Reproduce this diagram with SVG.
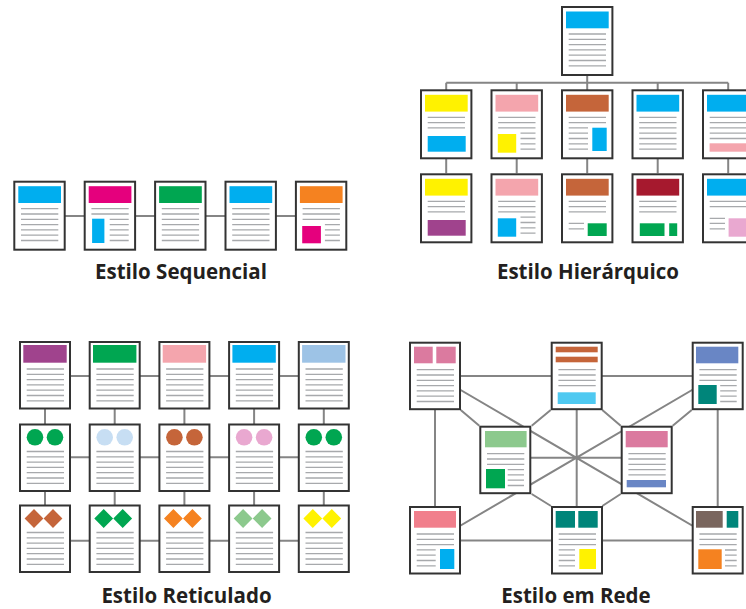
<svg xmlns="http://www.w3.org/2000/svg" xmlns:xlink="http://www.w3.org/1999/xlink" width="746" height="609" viewBox="0 0 746 609">
<style>
.pg{fill:#fff;stroke:#333;stroke-width:2}
.ln{stroke:#a7a9ac;stroke-width:1.3;fill:none}
.cn{stroke:#858585;stroke-width:2;fill:none}
.lbl{font-family:"Open Sans","Liberation Sans",sans-serif;font-weight:700;font-size:20.5px;fill:#231f20;text-anchor:middle}
</style>
<defs>
<path id="L7" class="ln" d="M7.7 28H45M7.7 33.3H45M7.7 38.6H45M7.7 43.9H45M7.7 49.2H45M7.7 54.5H45M7.7 59.8H45"/>
<path id="L5" class="ln" d="M7.7 28H45M7.7 33.3H45M7.7 38.6H45M7.7 43.9H45M7.7 49.2H45"/>
<path id="L4" class="ln" d="M7.7 28H45M7.7 33.3H45M7.7 38.6H45M7.7 43.9H45"/>
<path id="L3" class="ln" d="M7.7 28H45M7.7 33.3H45M7.7 38.6H45"/>
<path id="L2" class="ln" d="M7.7 28H45M7.7 33.3H45"/>
<path id="SR4" class="ln" d="M30 43.9H45M30 49.2H45M30 54.5H45M30 59.8H45"/>
<path id="SR5" class="ln" d="M26 38.6H45M26 43.9H45M26 49.2H45M26 54.5H45M26 59.8H45"/>
<path id="SL5" class="ln" d="M7.7 38.6H27M7.7 43.9H27M7.7 49.2H27M7.7 54.5H27M7.7 59.8H27"/>
<rect id="F70" class="pg" x="1" y="1" width="50.4" height="68"/>
<rect id="F68" class="pg" x="1" y="1" width="50" height="66.5"/>
</defs>

<!-- connectors -->
<g id="connectors">
<path class="cn" d="M39.5 216H321"/>
<path class="cn" d="M587.2 76V82.7M446.2 82.7H728.2M446.2 82.7V173.3M516.7 82.7V173.3M587.2 82.7V173.3M657.7 82.7V173.3M728.2 82.7V173.3"/>
<path class="cn" d="M45 376H323.8M45 457.3H323.8M45 540.7H323.8M45 376V540M114.7 376V540M184.4 376V540M254.1 376V540M323.8 376V540"/>
<path class="cn" d="M435 376H717.7M435 540.5H717.7M435 376V540.5M576.7 376V540.5M717.7 376V540.5M505.3 457.7H646.7M435 375L717.7 540.5M717.7 375L435 540.5M460.7 410L479.3 425.7M691.7 410L672.7 425.7M550.7 410L531.7 425.7M602.3 410L620.7 425.7M531.7 494L551 506M620.7 494L602.3 506"/>
</g>

<!-- Sequencial -->
<g id="seq1" transform="translate(13.3,180.7)"><use href="#F70"/><rect x="5" y="5.5" width="42.7" height="16.8" fill="#00aeef"/><use href="#L7"/></g>
<g id="seq2" transform="translate(83.7,180.7)"><use href="#F70"/><rect x="5" y="5.5" width="42.7" height="16.8" fill="#e5007d"/><use href="#L2"/><rect x="8.4" y="38" width="12.3" height="24.3" fill="#00aeef"/><use href="#SR5"/></g>
<g id="seq3" transform="translate(154.1,180.7)"><use href="#F70"/><rect x="5" y="5.5" width="42.7" height="16.8" fill="#00a651"/><use href="#L7"/></g>
<g id="seq4" transform="translate(224.5,180.7)"><use href="#F70"/><rect x="5" y="5.5" width="42.7" height="16.8" fill="#00aeef"/><use href="#L7"/></g>
<g id="seq5" transform="translate(294.9,180.7)"><use href="#F70"/><rect x="5" y="5.5" width="42.7" height="16.8" fill="#f58220"/><use href="#L3"/><rect x="7.3" y="45.3" width="18.7" height="17.3" fill="#e5007d"/><use href="#SR4"/></g>
<text class="lbl" x="181" y="279">Estilo Sequencial</text>

<!-- Hierárquico -->
<g id="h0" transform="translate(561,6)"><use href="#F70"/><rect x="5" y="5.5" width="42.7" height="16.8" fill="#00aeef"/><use href="#L7"/></g>
<g id="h11" transform="translate(420,89.3)"><use href="#F70"/><rect x="5" y="5.5" width="42.7" height="16.8" fill="#fff200"/><use href="#L3"/><rect x="7.7" y="46.7" width="38" height="15.7" fill="#00aeef"/></g>
<g id="h12" transform="translate(490.5,89.3)"><use href="#F70"/><rect x="5" y="5.5" width="42.7" height="16.8" fill="#f4a5ad"/><use href="#L3"/><rect x="7.3" y="44.7" width="18.4" height="18.7" fill="#fff200"/><use href="#SR4"/></g>
<g id="h13" transform="translate(561,89.3)"><use href="#F70"/><rect x="5" y="5.5" width="42.7" height="16.8" fill="#c5653a"/><use href="#L2"/><rect x="31.3" y="38.4" width="14.4" height="23.3" fill="#00aeef"/><use href="#SL5"/></g>
<g id="h14" transform="translate(631.5,89.3)"><use href="#F70"/><rect x="5" y="5.5" width="42.7" height="16.8" fill="#00aeef"/><use href="#L7"/></g>
<g id="h15" transform="translate(702,89.3)"><use href="#F70"/><rect x="5" y="5.5" width="42.7" height="16.8" fill="#00aeef"/><use href="#L5"/><rect x="7.6" y="54" width="38" height="8.4" fill="#f4a5ad"/></g>
<g id="h21" transform="translate(420,173.3)"><use href="#F70"/><rect x="5" y="5.5" width="42.7" height="16.8" fill="#fff200"/><use href="#L3"/><rect x="7.7" y="46.7" width="38" height="15.7" fill="#a0438d"/></g>
<g id="h22" transform="translate(490.5,173.3)"><use href="#F70"/><rect x="5" y="5.5" width="42.7" height="16.8" fill="#f4a5ad"/><use href="#L3"/><rect x="7.3" y="45" width="18.4" height="18.4" fill="#00aeef"/><use href="#SR4"/></g>
<g id="h23" transform="translate(561,173.3)"><use href="#F70"/><rect x="5" y="5.5" width="42.7" height="16.8" fill="#c5653a"/><use href="#L3"/><path class="ln" d="M7.7 50H23M7.7 55.5H23"/><rect x="26.7" y="50" width="19" height="12.7" fill="#00a651"/></g>
<g id="h24" transform="translate(631.5,173.3)"><use href="#F70"/><rect x="5" y="5.5" width="42.7" height="16.8" fill="#a6192e"/><use href="#L3"/><rect x="8.3" y="50" width="24.7" height="12.7" fill="#00a651"/><rect x="37.7" y="50" width="8" height="12.7" fill="#00a651"/></g>
<g id="h25" transform="translate(702,173.3)"><use href="#F70"/><rect x="5" y="5.5" width="42.7" height="16.8" fill="#00aeef"/><use href="#L2"/><path class="ln" d="M7.7 45H23M7.7 50H23M7.7 55.5H23"/><rect x="26.6" y="45" width="18.4" height="18.4" fill="#e9a8d0"/></g>
<text class="lbl" x="588" y="279">Estilo Hierárquico</text>

<!-- Reticulado -->
<g id="r11" transform="translate(19,341)"><use href="#F68"/><rect x="4.3" y="4" width="43.4" height="17.7" fill="#a0438d"/><use href="#L7"/></g>
<g id="r12" transform="translate(88.7,341)"><use href="#F68"/><rect x="4.3" y="4" width="43.4" height="17.7" fill="#00a651"/><use href="#L7"/></g>
<g id="r13" transform="translate(158.4,341)"><use href="#F68"/><rect x="4.3" y="4" width="43.4" height="17.7" fill="#f4a5ad"/><use href="#L7"/></g>
<g id="r14" transform="translate(228.1,341)"><use href="#F68"/><rect x="4.3" y="4" width="43.4" height="17.7" fill="#00aeef"/><use href="#L7"/></g>
<g id="r15" transform="translate(297.8,341)"><use href="#F68"/><rect x="4.3" y="4" width="43.4" height="17.7" fill="#9dc3e6"/><use href="#L7"/></g>
<g id="r21" transform="translate(19,423.5)"><use href="#F68"/><circle cx="16" cy="13.8" r="8.3" fill="#00a651"/><circle cx="36" cy="13.8" r="8.3" fill="#00a651"/><use href="#L7"/></g>
<g id="r22" transform="translate(88.7,423.5)"><use href="#F68"/><circle cx="16" cy="13.8" r="8.3" fill="#c7def3"/><circle cx="36" cy="13.8" r="8.3" fill="#c7def3"/><use href="#L7"/></g>
<g id="r23" transform="translate(158.4,423.5)"><use href="#F68"/><circle cx="16" cy="13.8" r="8.3" fill="#c5653a"/><circle cx="36" cy="13.8" r="8.3" fill="#c5653a"/><use href="#L7"/></g>
<g id="r24" transform="translate(228.1,423.5)"><use href="#F68"/><circle cx="16" cy="13.8" r="8.3" fill="#e9a8d0"/><circle cx="36" cy="13.8" r="8.3" fill="#e9a8d0"/><use href="#L7"/></g>
<g id="r25" transform="translate(297.8,423.5)"><use href="#F68"/><circle cx="16" cy="13.8" r="8.3" fill="#00a651"/><circle cx="36" cy="13.8" r="8.3" fill="#00a651"/><use href="#L7"/></g>
<g id="r31" transform="translate(19,504.5)"><use href="#F68"/><path d="M15 4.6L24.4 14L15 23.4L5.6 14ZM34 4.6L43.4 14L34 23.4L24.6 14Z" fill="#c5653a"/><use href="#L7"/></g>
<g id="r32" transform="translate(88.7,504.5)"><use href="#F68"/><path d="M15 4.6L24.4 14L15 23.4L5.6 14ZM34 4.6L43.4 14L34 23.4L24.6 14Z" fill="#00a651"/><use href="#L7"/></g>
<g id="r33" transform="translate(158.4,504.5)"><use href="#F68"/><path d="M15 4.6L24.4 14L15 23.4L5.6 14ZM34 4.6L43.4 14L34 23.4L24.6 14Z" fill="#f58220"/><use href="#L7"/></g>
<g id="r34" transform="translate(228.1,504.5)"><use href="#F68"/><path d="M15 4.6L24.4 14L15 23.4L5.6 14ZM34 4.6L43.4 14L34 23.4L24.6 14Z" fill="#8cc98d"/><use href="#L7"/></g>
<g id="r35" transform="translate(297.8,504.5)"><use href="#F68"/><path d="M15 4.6L24.4 14L15 23.4L5.6 14ZM34 4.6L43.4 14L34 23.4L24.6 14Z" fill="#fff200"/><use href="#L7"/></g>
<text class="lbl" x="186.5" y="603">Estilo Reticulado</text>

<!-- Rede -->
<g id="nTL" transform="translate(409,341.7)"><use href="#F68"/><rect x="5" y="5" width="18.7" height="16.6" fill="#db7a9f"/><rect x="27.3" y="5" width="19.4" height="16.6" fill="#db7a9f"/><use href="#L7"/></g>
<g id="nTM" transform="translate(550.7,341.7)"><use href="#F68"/><rect x="5" y="5" width="42" height="5.6" fill="#c5653a"/><rect x="5" y="15" width="42" height="5.6" fill="#c5653a"/><use href="#L4"/><rect x="7" y="50.6" width="38" height="11.7" fill="#4fc9f1"/></g>
<g id="nTR" transform="translate(691.7,341.7)"><use href="#F68"/><rect x="4.3" y="5" width="42.3" height="16.6" fill="#6986c5"/><use href="#L3"/><rect x="6.6" y="43.3" width="18.4" height="19" fill="#00857a"/><path class="ln" d="M28.5 44H45M28.5 49.2H45M28.5 54.5H45M28.5 59.8H45"/></g>
<g id="nML" transform="translate(479.3,425.7)"><use href="#F68"/><rect x="5.7" y="5.3" width="41.6" height="16.3" fill="#8cc98d"/><use href="#L3"/><rect x="6.7" y="43.3" width="19" height="19.3" fill="#00a651"/><path class="ln" d="M28.4 44H44.7M28.4 49.2H44.7M28.4 54.5H44.7M28.4 59.8H44.7"/></g>
<g id="nMR" transform="translate(620.7,425.7)"><use href="#F68"/><rect x="5" y="5.3" width="42" height="16.3" fill="#db7a9f"/><use href="#L5"/><rect x="6" y="54.3" width="39.3" height="7.3" fill="#6986c5"/></g>
<g id="nBL" transform="translate(409,506)"><use href="#F68"/><rect x="5" y="5" width="42" height="16.7" fill="#f17f8c"/><use href="#L3"/><rect x="31" y="43" width="14.3" height="20" fill="#00aeef"/><path class="ln" d="M7.7 43.9H26.7M7.7 49.2H26.7M7.7 54.5H26.7M7.7 59.8H26.7"/></g>
<g id="nBM" transform="translate(551,506)"><use href="#F68"/><rect x="4.7" y="5" width="19.3" height="16.7" fill="#00857a"/><rect x="27.3" y="5" width="19.4" height="16.7" fill="#00857a"/><use href="#L3"/><rect x="28.3" y="43" width="16.7" height="20" fill="#fff200"/><path class="ln" d="M7.7 43.9H24M7.7 49.2H24M7.7 54.5H24M7.7 59.8H24"/></g>
<g id="nBR" transform="translate(691.7,506)"><use href="#F68"/><rect x="4.3" y="5" width="26.7" height="16.7" fill="#7a665e"/><rect x="35" y="5" width="11.6" height="16.7" fill="#00857a"/><use href="#L3"/><rect x="6.6" y="43.3" width="23.4" height="19.7" fill="#f58220"/><path class="ln" d="M33.3 44H45M33.3 49.2H45M33.3 54.5H45M33.3 59.8H45"/></g>
<text class="lbl" x="576" y="603">Estilo em Rede</text>
</svg>
